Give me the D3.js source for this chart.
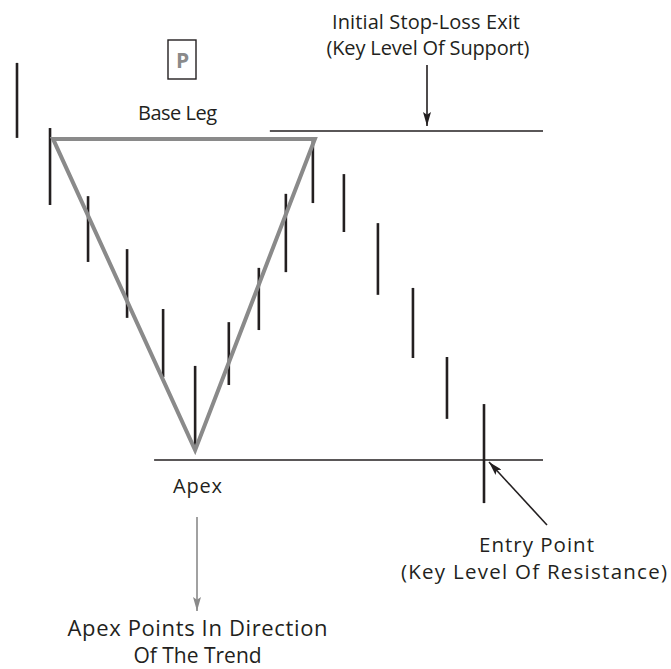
<!DOCTYPE html>
<html>
<head>
<meta charset="utf-8">
<script src="https://cdn.jsdelivr.net/npm/d3@7/dist/d3.min.js"></script>
<style>
html,body{margin:0;padding:0;background:#fff;}
svg text{font-family:"Open Sans",sans-serif;fill:#231f20;}
</style>
</head>
<body>
<svg id="chart" width="671" height="669"></svg>
<script>
// ---- data (time units, price units) ----
const barTime = [0, 0.99, 2.13, 3.3, 4.38, 5.34, 6.35, 7.25, 8.06, 8.87, 9.8, 10.82, 11.87, 12.89, 14.0];
const barHigh = [120.7, 100.9, 80.2, 64.1, 45.9, 28.6, 41.9, 58.4, 80.9, 97.6, 86.9, 72.0, 52.3, 31.3, 17.0];
const barLow  = [97.9, 77.5, 60.2, 43.2, 25.2, 4.0, 22.8, 39.5, 57.1, 78.1, 69.3, 50.2, 31.0, 12.5, -13.1];

const triTime  = [1.08, 8.93, 5.34];
const triPrice = [97.6, 97.6, 3.0];

const supportLevel = 100;
const supportSpan = [7.58, 15.77];
const entryLevel = 0;
const entrySpan = [4.11, 15.77];

const labelBase = "Base Leg";
const labelApex = "Apex";
const labelStop = ["Initial Stop-Loss Exit", "(Key Level Of Support)"];
const labelEntry = ["Entry Point", "(Key Level Of Resistance)"];
const labelTrend = ["Apex Points In Direction", "Of The Trend"];
const labelPattern = "P";

// ---- scales ----
const x = d3.scaleLinear().domain([0, 14]).range([17, 484]);
const y = d3.scaleLinear().domain([0, 100]).range([460, 131]);

const svg = d3.select("#chart");
const ink = "#231f20", gray = "#8a8a8a";

const defs = svg.append("defs");
function marker(id, color, w, l) {
  defs.append("marker").attr("id", id).attr("viewBox", `0 0 ${l} ${w}`)
    .attr("refX", l).attr("refY", w / 2).attr("markerWidth", l).attr("markerHeight", w)
    .attr("markerUnits", "userSpaceOnUse").attr("orient", "auto")
    .append("path").attr("d", `M0,0L${l},${w / 2}L0,${w}L${l * 0.2},${w / 2}Z`).attr("fill", color);
}
marker("ah", ink, 8, 14);
marker("ahg", gray, 8, 14);

// horizontal levels
svg.append("line").attr("x1", x(supportSpan[0])).attr("x2", x(supportSpan[1]))
  .attr("y1", y(supportLevel)).attr("y2", y(supportLevel)).attr("stroke", ink).attr("stroke-width", 1.6);
svg.append("line").attr("x1", x(entrySpan[0])).attr("x2", x(entrySpan[1]))
  .attr("y1", y(entryLevel)).attr("y2", y(entryLevel)).attr("stroke", ink).attr("stroke-width", 1.6);

// bars
const bars = barTime.map((t, i) => ({t, h: barHigh[i], l: barLow[i]}));
svg.append("g").selectAll("line").data(bars).join("line")
  .attr("x1", d => x(d.t)).attr("x2", d => x(d.t))
  .attr("y1", d => y(d.h)).attr("y2", d => y(d.l))
  .attr("stroke", ink).attr("stroke-width", 2.6);

// triangle
const tri = triTime.map((t, i) => [x(t), y(triPrice[i])]);
svg.append("path").attr("d", d3.line()(tri) + "Z")
  .attr("fill", "none").attr("stroke", gray).attr("stroke-width", 4).attr("stroke-linejoin", "miter");

// P box
svg.append("rect").attr("x", 168).attr("y", 40).attr("width", 28).attr("height", 39)
  .attr("fill", "none").attr("stroke", ink).attr("stroke-width", 1.4);
svg.append("text").attr("x", 182.5).attr("y", 68).attr("text-anchor", "middle")
  .style("font-size", "21px").style("font-weight", "bold").style("fill", gray).text(labelPattern);

function txt(xp, yp, s, len, size) {
  const t = svg.append("text").attr("x", xp).attr("y", yp).attr("text-anchor", "middle")
    .style("font-size", size + "px").text(s);
  if (len) t.attr("textLength", len).attr("lengthAdjust", "spacing");
}
txt(177.5, 120, labelBase, 79, 20);
txt(197.5, 493, labelApex, 49, 20);
txt(426, 29, labelStop[0], 188, 20);
txt(428, 55, labelStop[1], 203, 20);
txt(536.5, 552, labelEntry[0], 115, 20.5);
txt(534, 579, labelEntry[1], 266, 20.5);
txt(197.5, 636, labelTrend[0], 260, 22);
txt(197.5, 663, labelTrend[1], null, 21);

// arrows
svg.append("line").attr("x1", 427).attr("y1", 65).attr("x2", 427).attr("y2", 126)
  .attr("stroke", ink).attr("stroke-width", 1.6).attr("marker-end", "url(#ah)");
svg.append("line").attr("x1", 547).attr("y1", 525).attr("x2", 489).attr("y2", 462)
  .attr("stroke", ink).attr("stroke-width", 1.6).attr("marker-end", "url(#ah)");
svg.append("line").attr("x1", 197).attr("y1", 517).attr("x2", 197).attr("y2", 611)
  .attr("stroke", gray).attr("stroke-width", 1.6).attr("marker-end", "url(#ahg)");
</script>
</body>
</html>
